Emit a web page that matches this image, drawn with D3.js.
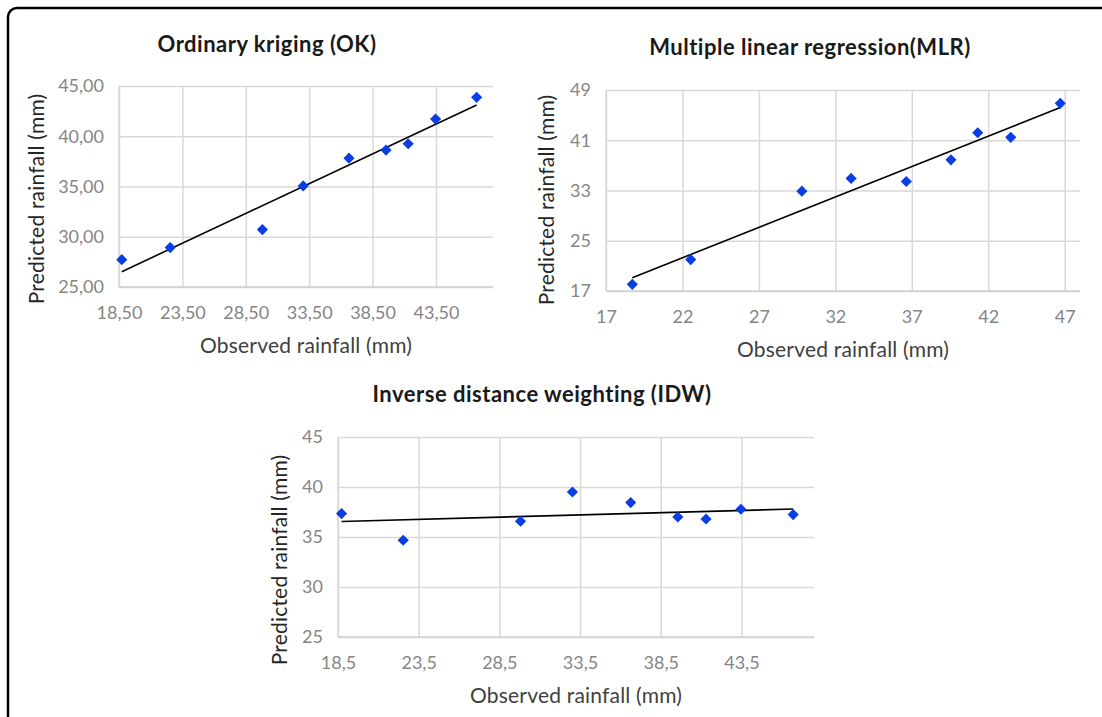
<!DOCTYPE html>
<html>
<head>
<meta charset="utf-8">
<script src="https://cdn.jsdelivr.net/npm/d3@7"></script>
<style>
  html, body { margin: 0; padding: 0; background: #fff; }
  svg { display: block; font-family: Lato, "Open Sans", sans-serif; }
</style>
</head>
<body>
<svg width="1102" height="717"></svg>
<script>
// observed rainfall (mm), shared by the three panels
const observed = [18.72, 22.54, 29.81, 33.03, 36.64, 39.56, 41.31, 43.47, 46.71];

// predicted rainfall (mm)
const predictedOK = [27.72, 28.92, 30.71, 35.06, 37.82, 38.62, 39.25, 41.71, 43.87];
const predictedMLR = [18.06, 22.0, 32.89, 34.92, 34.44, 37.88, 42.19, 41.46, 46.88];
const predictedIDW = [37.34, 34.67, 36.57, 39.5, 38.44, 37.0, 36.8, 37.77, 37.24];

// tick labels
const okXTicks = [18.5, 23.5, 28.5, 33.5, 38.5, 43.5];
const okYTicks = [25, 30, 35, 40, 45];
const mlrXTicks = [17, 22, 27, 32, 37, 42, 47];
const mlrYTicks = [17, 25, 33, 41, 49];
const idwXTicks = [18.5, 23.5, 28.5, 33.5, 38.5, 43.5];
const idwYTicks = [25, 30, 35, 40, 45];

const titles = ["Ordinary kriging (OK)", "Multiple linear regression(MLR)", "Inverse distance weighting (IDW)"];

const svg = d3.select("svg");

// frame round the figure, running off the right and bottom edges
svg.append("rect")
  .attr("x", 8).attr("y", 8)
  .attr("width", 1200).attr("height", 800)
  .attr("rx", 9)
  .attr("fill", "none")
  .attr("stroke", "#000")
  .attr("stroke-width", 2.5);

const comma = (digits) => (v) => d3.format(`.${digits}f`)(v).replace(".", ",");

const panels = [
  {
    title: titles[0], y: predictedOK,
    box: { left: 119, right: 493, top: 86, bottom: 287 },
    xDomain: [18.5, 48], yDomain: [25, 45],
    xTicks: okXTicks, yTicks: okYTicks, xFmt: comma(2), yFmt: comma(2),
    titleX: 267, titleY: 52, yTitleX: 37, yTitleY: 199
  },
  {
    title: titles[1], y: predictedMLR,
    box: { left: 606, right: 1080, top: 90, bottom: 291 },
    xDomain: [17, 48], yDomain: [17, 49],
    xTicks: mlrXTicks, yTicks: mlrYTicks, xFmt: d3.format("d"), yFmt: d3.format("d"),
    titleX: 810, titleY: 55, yTitleX: 547, yTitleY: 200
  },
  {
    title: titles[2], y: predictedIDW,
    box: { left: 338, right: 814, top: 437, bottom: 637 },
    xDomain: [18.5, 48], yDomain: [25, 45],
    xTicks: idwXTicks, yTicks: idwYTicks, xFmt: comma(1), yFmt: d3.format("d"),
    titleX: 542, titleY: 402, yTitleX: 280, yTitleY: 560
  }
];

// least squares trendline, drawn across the data range like Excel does
function trend(xs, ys) {
  const mx = d3.mean(xs), my = d3.mean(ys);
  const sxy = d3.sum(xs, (x, i) => (x - mx) * (ys[i] - my));
  const sxx = d3.sum(xs, x => (x - mx) * (x - mx));
  const b = sxy / sxx, a = my - b * mx;
  const x0 = d3.min(xs), x1 = d3.max(xs);
  return [[x0, a + b * x0], [x1, a + b * x1]];
}

const diamond = d3.symbol().type(d3.symbolSquare).size(62);

panels.forEach(p => {
  const b = p.box;
  const x = d3.scaleLinear().domain(p.xDomain).range([b.left, b.right]);
  const y = d3.scaleLinear().domain(p.yDomain).range([b.bottom, b.top]);
  const g = svg.append("g");

  // grid
  g.append("g")
    .attr("transform", `translate(0,${b.bottom})`)
    .call(d3.axisBottom(x).tickValues(p.xTicks).tickSize(b.top - b.bottom).tickFormat(""))
    .call(s => s.select(".domain").remove())
    .selectAll("line").attr("stroke", "#d9d9d9").attr("stroke-width", 1.5);
  g.append("g")
    .attr("transform", `translate(${b.left},0)`)
    .call(d3.axisLeft(y).tickValues(p.yTicks).tickSize(b.left - b.right).tickFormat(""))
    .call(s => s.select(".domain").remove())
    .selectAll("line").attr("stroke", "#d9d9d9").attr("stroke-width", 1.5);
  g.append("line")
    .attr("x1", b.left).attr("x2", b.left).attr("y1", b.top).attr("y2", b.bottom)
    .attr("stroke", "#d9d9d9").attr("stroke-width", 1.5);
  g.append("line")
    .attr("x1", b.left).attr("x2", b.right).attr("y1", b.bottom).attr("y2", b.bottom)
    .attr("stroke", "#d0d0d0").attr("stroke-width", 1.5);

  // tick labels
  const xa = g.append("g")
    .attr("transform", `translate(0,${b.bottom})`)
    .call(d3.axisBottom(x).tickValues(p.xTicks).tickSize(0).tickPadding(19).tickFormat(p.xFmt));
  const ya = g.append("g")
    .attr("transform", `translate(${b.left},0)`)
    .call(d3.axisLeft(y).tickValues(p.yTicks).tickSize(0).tickPadding(15).tickFormat(p.yFmt));
  [xa, ya].forEach(a => {
    a.select(".domain").remove();
    a.selectAll("text")
      .attr("fill", "#858585")
      .attr("font-size", 18)
      .attr("font-family", "Lato, sans-serif");
  });

  // trendline
  g.append("path")
    .datum(trend(observed, p.y))
    .attr("d", d3.line().x(d => x(d[0])).y(d => y(d[1])))
    .attr("stroke", "#000")
    .attr("stroke-width", 1.6)
    .attr("fill", "none");

  // points
  g.selectAll(".pt")
    .data(observed.map((o, i) => [o, p.y[i]]))
    .join("path")
    .attr("class", "pt")
    .attr("d", diamond)
    .attr("transform", d => `translate(${x(d[0])},${y(d[1])}) rotate(45)`)
    .attr("fill", "#0a3de2");

  // titles
  g.append("text")
    .attr("x", p.titleX).attr("y", p.titleY)
    .attr("text-anchor", "middle")
    .attr("font-size", 22)
    .attr("font-weight", "bold")
    .attr("letter-spacing", 0.5)
    .attr("fill", "#1a1a1a")
    .text(p.title);
  g.append("text")
    .attr("x", (b.left + b.right) / 2).attr("y", b.bottom + 66)
    .attr("text-anchor", "middle")
    .attr("font-size", 21)
    .attr("letter-spacing", 0.2)
    .attr("fill", "#404040")
    .text("Observed rainfall (mm)");
  g.append("text")
    .attr("transform", `translate(${p.yTitleX + 7},${p.yTitleY}) rotate(-90)`)
    .attr("text-anchor", "middle")
    .attr("font-size", 21)
    .attr("letter-spacing", 0.2)
    .attr("fill", "#262626")
    .text("Predicted rainfall (mm)");
});
</script>
</body>
</html>
